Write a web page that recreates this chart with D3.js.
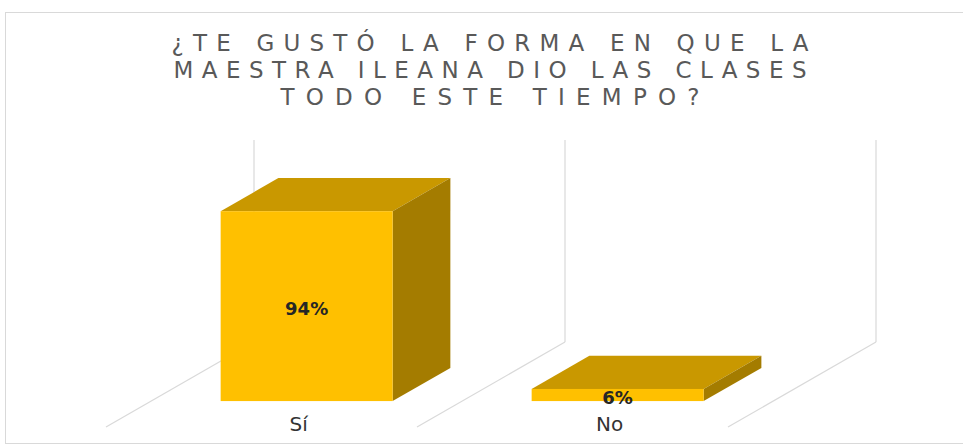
<!DOCTYPE html>
<html>
<head>
<meta charset="utf-8">
<script src="https://cdn.jsdelivr.net/npm/d3@7"></script>
<style>
  html, body { margin: 0; padding: 0; background: #fff; }
  svg { display: block; }
</style>
</head>
<body>
<svg id="chart" width="963" height="444"></svg>
<script>
// Survey answers and their shares (percent)
const categories = ["Sí", "No"];
const values = [94, 6];
const valueLabels = ["94%", "6%"];
const titleLines = [
  "¿TE GUSTÓ LA FORMA EN QUE LA",
  "MAESTRA ILEANA DIO LAS CLASES",
  "TODO ESTE TIEMPO?"
];
const yDomain = [0, 100];

const svg = d3.select("#chart");

// Chart frame
svg.append("rect")
  .attr("x", 5.5).attr("y", 12.5)
  .attr("width", 960).attr("height", 431)
  .attr("fill", "#fff")
  .attr("stroke", "#d9d9d9").attr("stroke-width", 1);

// Title
const titleWidths = [637, 633, 419];
svg.append("g").selectAll("text")
  .data(titleLines)
  .join("text")
  .attr("x", 490)
  .attr("y", (d, i) => 51 + i * 27)
  .attr("text-anchor", "middle")
  .attr("textLength", (d, i) => titleWidths[i])
  .attr("lengthAdjust", "spacing")
  .attr("font-family", "DejaVu Sans, Verdana, sans-serif")
  .attr("font-size", 23)
  .attr("fill", "#595959")
  .text(d => d);

// Oblique 3D projection: floor front edge and the depth vector to the back wall
const floorFrontY = 427;
const depth = { dx: 148, dy: -85 };
const x = d3.scaleBand().domain(categories).range([106, 728]).padding(0);
const h = d3.scaleLinear().domain(yDomain).range([0, 202]);

// Bars sit in the middle of the floor depth
const barDepthStart = 0.305, barDepthEnd = 0.695;
const barWidthFrac = 0.553;

const grid = svg.append("g").attr("stroke", "#d9d9d9").attr("stroke-width", 1.2).attr("fill", "none");
const boundaries = categories.map(c => x(c)).concat([x.range()[1]]);

// Back wall separators
grid.selectAll("line.wall")
  .data(boundaries)
  .join("line")
  .attr("class", "wall")
  .attr("x1", d => d + depth.dx).attr("x2", d => d + depth.dx)
  .attr("y1", floorFrontY + depth.dy)
  .attr("y2", floorFrontY + depth.dy - h(yDomain[1]));

// Floor separators
grid.selectAll("line.floor")
  .data(boundaries)
  .join("line")
  .attr("class", "floor")
  .attr("x1", d => d).attr("y1", floorFrontY)
  .attr("x2", d => d + depth.dx).attr("y2", floorFrontY + depth.dy);

// Bars
const colors = { front: "#FFC000", top: "#C99800", side: "#A47C00" };
const bars = svg.append("g").selectAll("g.bar")
  .data(categories.map((c, i) => ({ c, v: values[i], label: valueLabels[i] })))
  .join("g").attr("class", "bar");

function geom(d) {
  const slot = x(d.c), step = x.step();
  const w = step * barWidthFrac;
  const fx = slot + (step - w) / 2 + depth.dx * barDepthStart;
  const fy = floorFrontY + depth.dy * barDepthStart;
  const ddx = depth.dx * (barDepthEnd - barDepthStart);
  const ddy = depth.dy * (barDepthEnd - barDepthStart);
  const ht = h(d.v);
  return { fx, fy, w, ddx, ddy, ht };
}

bars.append("path") // top
  .attr("fill", colors.top)
  .attr("d", d => {
    const g = geom(d), t = g.fy - g.ht;
    return `M${g.fx},${t}L${g.fx + g.w},${t}L${g.fx + g.w + g.ddx},${t + g.ddy}L${g.fx + g.ddx},${t + g.ddy}Z`;
  });
bars.append("path") // side
  .attr("fill", colors.side)
  .attr("d", d => {
    const g = geom(d), t = g.fy - g.ht, r = g.fx + g.w;
    return `M${r},${t}L${r + g.ddx},${t + g.ddy}L${r + g.ddx},${g.fy + g.ddy}L${r},${g.fy}Z`;
  });
bars.append("rect") // front
  .attr("fill", colors.front)
  .attr("x", d => geom(d).fx)
  .attr("y", d => geom(d).fy - geom(d).ht)
  .attr("width", d => geom(d).w)
  .attr("height", d => geom(d).ht);

// Value labels on the front face
bars.append("text")
  .attr("x", d => geom(d).fx + geom(d).w / 2)
  .attr("y", d => geom(d).fy - geom(d).ht / 2 + 2)
  .attr("text-anchor", "middle")
  .attr("dominant-baseline", "central")
  .attr("font-family", "DejaVu Sans, Verdana, sans-serif")
  .attr("font-weight", "bold")
  .attr("font-size", 18)
  .attr("fill", "#262626")
  .text(d => d.label);

// Category labels
svg.append("g").selectAll("text.cat")
  .data(categories)
  .join("text")
  .attr("class", "cat")
  .attr("x", d => x(d) + x.step() / 2 + depth.dx * barDepthStart - 8)
  .attr("y", 431)
  .attr("text-anchor", "middle")
  .attr("font-family", "DejaVu Sans, Verdana, sans-serif")
  .attr("font-size", 20)
  .attr("fill", "#333333")
  .text(d => d);
</script>
</body>
</html>
